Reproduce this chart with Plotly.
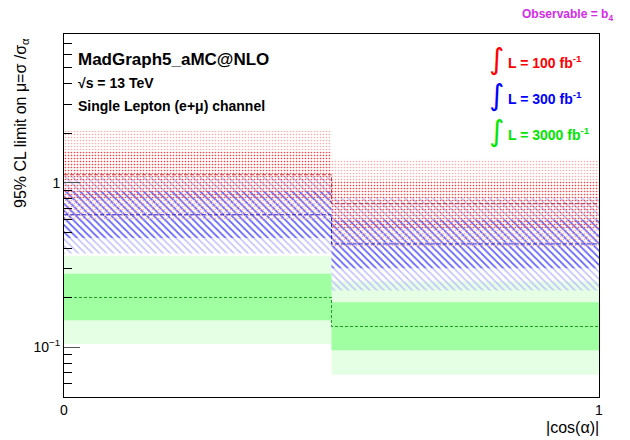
import math
import plotly.graph_objects as go

# Binning in |cos(alpha)|
bin_edges = [0.0, 0.5, 1.0]

# Expected 95% CL limits per bin: median and 1/2 sigma bands
red_median = [1.118, 0.746]          # 100 fb^-1
red_1s_lo = [0.79, 0.53]
red_1s_hi = [1.55, 1.03]
red_2s_lo = [0.60, 0.40]
red_2s_hi = [2.07, 1.39]

blue_median = [0.639, 0.425]         # 300 fb^-1
blue_1s_lo = [0.462, 0.303]
blue_1s_hi = [0.89, 0.596]
blue_2s_lo = [0.372, 0.222]
blue_2s_hi = [1.09, 0.81]

green_median = [0.201, 0.134]        # 3000 fb^-1
green_1s_lo = [0.146, 0.096]
green_1s_hi = [0.280, 0.188]
green_2s_lo = [0.105, 0.0683]
green_2s_hi = [0.360, 0.252]

lumi_labels = ["L = 100 fb<sup>-1</sup>", "L = 300 fb<sup>-1</sup>", "L = 3000 fb<sup>-1</sup>"]
lumi_colors = ["#ff0000", "#0000ff", "#00e600"]

y_range = [0.05, 8.0]
y_major = [0.1, 1.0]
y_major_text = ["10<sup>\u22121</sup>", "1"]
y_minor = [0.06, 0.07, 0.08, 0.09, 0.2, 0.3, 0.4, 0.5, 0.6, 0.7, 0.8, 0.9,
           2, 3, 4, 5, 6, 7, 8]
x_ticks = [0, 1]
x_tick_text = ["0", "1"]

FONT = "Liberation Sans"
W, H = 630, 440
L, R, T, B = 64, 31, 34, 43


def px(x):
    return (x - L) / (W - L - R)


def py(y):
    return (H - B - y) / (H - T - B)


def band(edges, lo, hi):
    xs, ys = [], []
    for i in range(len(lo)):
        xs += [edges[i], edges[i + 1]]
        ys += [hi[i], hi[i]]
    for i in reversed(range(len(lo))):
        xs += [edges[i + 1], edges[i]]
        ys += [lo[i], lo[i]]
    xs.append(xs[0])
    ys.append(ys[0])
    return xs, ys


fig = go.Figure()


def add_solid_band(lo, hi, color):
    xs, ys = band(bin_edges, lo, hi)
    fig.add_trace(go.Scatter(x=xs, y=ys, mode="lines", fill="toself",
                             fillcolor=color, line=dict(width=0),
                             hoverinfo="skip", showlegend=False))


def add_pattern_band(lo, hi, shape, color, size, solidity):
    xs, ys = band(bin_edges, lo, hi)
    fig.add_trace(go.Scatter(x=xs, y=ys, mode="lines", fill="toself",
                             fillcolor="rgba(0,0,0,0)",
                             fillpattern=dict(shape=shape, fgcolor=color,
                                              bgcolor="rgba(0,0,0,0)",
                                              size=size, solidity=solidity,
                                              fillmode="replace"),
                             line=dict(width=0), hoverinfo="skip",
                             showlegend=False))


def add_median(vals, color, dash):
    fig.add_trace(go.Scatter(x=bin_edges, y=vals + [vals[-1]], mode="lines",
                             line=dict(color=color, width=1, dash=dash, shape="hv"),
                             hoverinfo="skip", showlegend=False))


# 3000 fb^-1: solid fills
add_solid_band(green_2s_lo, green_2s_hi, "#e5ffe5")
add_solid_band(green_1s_lo, green_1s_hi, "#a0ffa0")
# 300 fb^-1: diagonal hatching
add_pattern_band(blue_2s_lo, blue_2s_hi, "\\", "#c0c0ff", 5, 0.3)
add_pattern_band(blue_1s_lo, blue_1s_hi, "\\", "#6464ff", 5, 0.3)
# 100 fb^-1: dotted fill
add_pattern_band(red_2s_lo, red_2s_hi, ".", "#ffaaaa", 3, 0.22)
add_pattern_band(red_1s_lo, red_1s_hi, ".", "#ff4040", 3, 0.2)

add_median(green_median, "#1a9f1a", "3px,2px")
add_median(blue_median, "#2a2ac8", "4px,2px")
add_median(red_median, "#c83030", "4px,2px")

annotations = []
# Header text
annotations.append(dict(x=px(76), y=py(60), text="<b>MadGraph5_aMC@NLO</b>",
                        font=dict(family=FONT, size=17, color="black")))
annotations.append(dict(x=px(76), y=py(83), text="<b>\u221as = 13 TeV</b>",
                        font=dict(family=FONT, size=14, color="black")))
annotations.append(dict(x=px(76), y=py(106), text="<b>Single Lepton (e+\u03bc) channel</b>",
                        font=dict(family=FONT, size=14, color="black")))
for a in annotations:
    a.update(xref="paper", yref="paper", xanchor="left", yanchor="middle", showarrow=False)

# Luminosity legend
leg_y = [60, 96, 132]
for lab, col, yy in zip(lumi_labels, lumi_colors, leg_y):
    annotations.append(dict(xref="paper", yref="paper", x=px(496), y=py(yy - 1),
                            text="\u222b", showarrow=False, xanchor="center",
                            yanchor="middle",
                            font=dict(family="DejaVu Sans", size=29, color=col)))
    annotations.append(dict(xref="paper", yref="paper", x=px(506), y=py(yy + 2),
                            text="<b>" + lab + "</b>", showarrow=False,
                            xanchor="left", yanchor="middle",
                            font=dict(family=FONT, size=14, color=col)))

# Observable tag
annotations.append(dict(xref="paper", yref="paper", x=px(615), y=py(15),
                        text="<b>Observable = b<sub>4</sub></b>", showarrow=False,
                        xanchor="right", yanchor="middle",
                        font=dict(family=FONT, size=12, color="#d52be8")))

# Axis titles
annotations.append(dict(xref="paper", yref="paper", x=px(21), y=py(123),
                        text="95% CL limit on \u03bc=\u03c3 /\u03c3<sub>\u03b1</sub>",
                        textangle=-90, showarrow=False, xanchor="center",
                        yanchor="middle",
                        font=dict(family=FONT, size=16, color="black")))
annotations.append(dict(xref="paper", yref="paper", x=px(601), y=py(427),
                        text="|cos(\u03b1)|", showarrow=False, xanchor="right",
                        yanchor="middle",
                        font=dict(family=FONT, size=16, color="black")))

fig.update_layout(
    width=W, height=H,
    margin=dict(l=L, r=R, t=T, b=B, pad=0),
    paper_bgcolor="white", plot_bgcolor="white",
    showlegend=False,
    annotations=annotations,
    xaxis=dict(range=[bin_edges[0], bin_edges[-1]], tickvals=x_ticks,
               ticktext=x_tick_text, ticks="", showgrid=False, zeroline=False,
               showline=True, mirror=True, linecolor="black", linewidth=1,
               tickfont=dict(family=FONT, size=14, color="black")),
    yaxis=dict(type="log", range=[math.log10(y_range[0]), math.log10(y_range[1])],
               tickvals=y_major, ticktext=y_major_text, ticks="inside",
               ticklen=16, tickwidth=1, tickcolor="#555555",
               minor=dict(tickvals=y_minor, ticks="inside", ticklen=8,
                          tickwidth=1, tickcolor="black", showgrid=False),
               showgrid=False, zeroline=False, showline=True, mirror=True,
               linecolor="black", linewidth=1,
               tickfont=dict(family=FONT, size=14, color="black")),
)

fig.write_html("out.html")
